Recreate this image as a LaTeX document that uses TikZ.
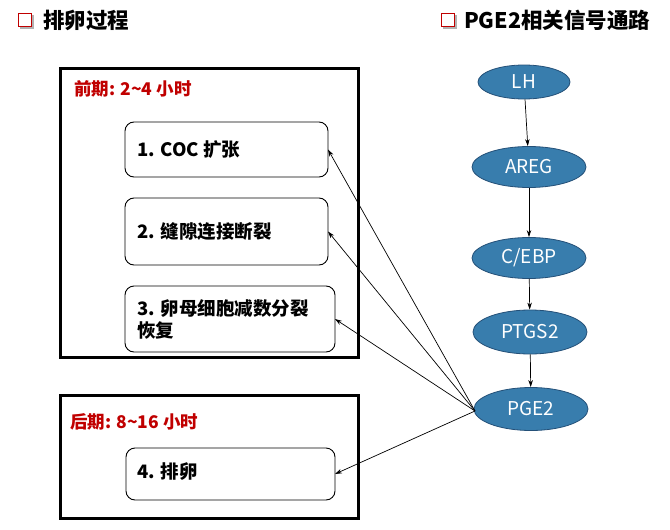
\documentclass[tikz,border=0pt]{standalone}
\usepackage{fontspec}
\setmainfont{Noto Sans CJK SC}
\usetikzlibrary{arrows.meta,shapes.geometric}
\definecolor{darkred}{RGB}{192,0,0}
\definecolor{ellfill}{RGB}{56,125,173}
\definecolor{elldraw}{RGB}{36,80,120}
\tikzset{
  outerbox/.style={draw=black,line width=3pt},
  innerbox/.style={draw=black,line width=0.9pt,rounded corners=9pt},
  boxtext/.style={anchor=west,font=\fontsize{18.5}{22}\selectfont\bfseries,align=left,inner sep=0pt},
  phase/.style={anchor=west,font=\fontsize{17.5}{21}\selectfont\bfseries,text=darkred,inner sep=0pt},
  ell/.style={ellipse,draw=elldraw,line width=0.8pt,fill=ellfill,text=white,font=\fontsize{19}{22}\selectfont,minimum width=114pt,minimum height=41pt,inner sep=0pt},
  title/.style={anchor=west,font=\fontsize{21.5}{25}\selectfont\bfseries,inner sep=0pt},
  link/.style={-{Stealth[length=7pt,width=4.5pt]},line width=0.7pt},
  chk/.style={draw=darkred,line width=1.8pt,fill=white}
}
\begin{document}
\begin{tikzpicture}[x=1pt,y=-1pt]
\useasboundingbox (0,0) rectangle (670,530);
% titles
\fill[gray!60] (19.5,14.5) rectangle (33.5,28.5);
\node[chk,minimum size=13pt,inner sep=0pt] (c1) at (25,20) {};
\node[title] (t1) at (43,20) {排卵过程};
\fill[gray!60] (442.5,14.5) rectangle (456.5,28.5);
\node[chk,minimum size=13pt,inner sep=0pt] (c2) at (448,20) {};
\node[title] (t2) at (464,20) {PGE2相关信号通路};
% outer boxes
\draw[outerbox] (60,68) rectangle (358,357);
\draw[outerbox] (60,395) rectangle (358,518);
\node[phase] (p1) at (74,89) {前期: 2\textasciitilde4 小时};
\node[phase] (p2) at (70,422) {后期: 8\textasciitilde16 小时};
% inner boxes
\draw[innerbox] (125,122) rectangle (328,177);
\coordinate (b1) at (328,149.5);
\draw[innerbox] (125,198) rectangle (328,265);
\coordinate (b2) at (328,231.5);
\draw[innerbox] (125,286) rectangle (335,352);
\coordinate (b3) at (335,319);
\draw[innerbox] (126,448) rectangle (335,500);
\coordinate (b4) at (335,474);
\node[boxtext] (x1) at (137,150) {1. COC 扩张};
\node[boxtext] (x2) at (137,232) {2. 缝隙连接断裂};
\node[boxtext] (x3) at (137,319) {3. 卵母细胞减数分裂\\恢复};
\node[boxtext] (x4) at (137,472) {4. 排卵};
% ellipses
\node[ell,minimum width=92pt,minimum height=34pt] (lh) at (524,82) {LH};
\node[ell] (areg) at (529,167) {AREG};
\node[ell] (cebp) at (529,258) {C/EBP};
\node[ell,minimum height=44pt] (ptgs) at (530,332) {PTGS2};
\node[ell,minimum height=43pt] (pge) at (531,409) {PGE2};
\draw[link] (lh) -- (areg);
\draw[link] (areg) -- (cebp);
\draw[link] (cebp) -- (ptgs);
\draw[link] (ptgs) -- (pge);
\coordinate (src) at (475,411);
\draw[link] (src) -- (b1);
\draw[link] (src) -- (b2);
\draw[link] (src) -- (b3);
\draw[link] (src) -- (b4);
\end{tikzpicture}
\end{document}
